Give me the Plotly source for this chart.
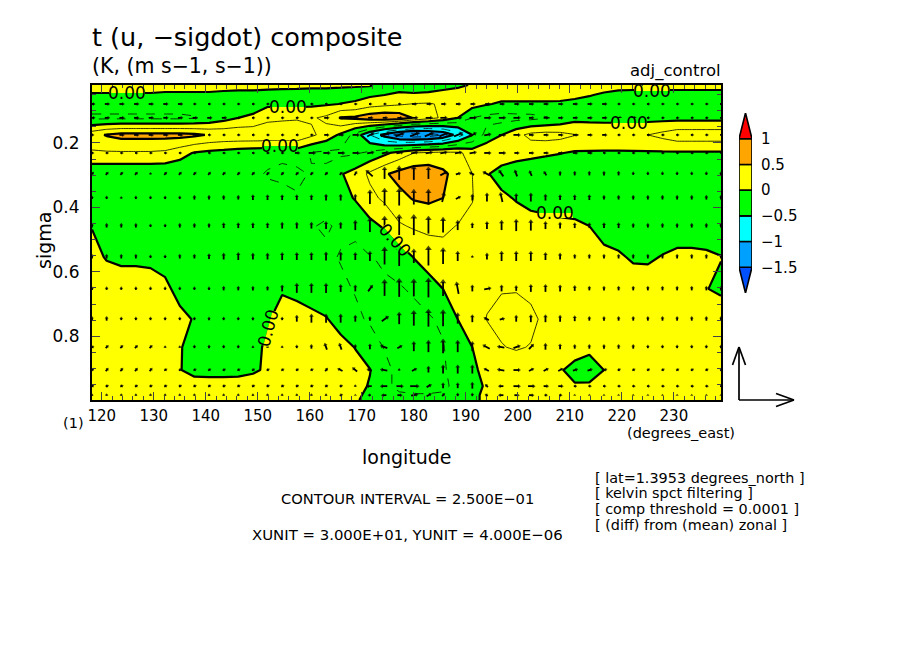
import numpy as np
import plotly.graph_objects as go

# model grid (2.8125 deg, sigma levels)
lon = [118.125 + 2.8125 * i for i in range(44)]
sigma = [0.020, 0.051, 0.079, 0.122, 0.175, 0.231, 0.296, 0.371, 0.458, 0.554, 0.653, 0.747, 0.834, 0.905, 0.955, 0.983, 0.998]

# temperature anomaly, K (rows = sigma, 4 groups of 11 columns)
t_anom = [
    [.08,.08,.08,.08,.08,.07,.07,.07,.07,.06,.06, .06,.05,.05,.05,.04,.04,.03,.02,.005,-.02,-.05, -.2,-.2,-.15,-.05,.02,.1,.1,.1,.1,.1,.1, .1,.1,.15,.12,.1,.1,.1,.1,.1,.1,.1],
    [-.02,-.02,-.02,-.02,-.02,-.03,-.03,-.03,-.03,-.04,-.05, -.05,-.06,-.07,-.08,-.08,-.08,-.08,-.08,-.04,0,.02, .05,.08,.15,.12,.15,.15,.1,.12,.12,.12,.1, .08,.02,-.05,-.1,-.1,-.1,-.1,-.1,-.1,-.1,-.1],
    [-.12,-.12,-.12,-.12,-.12,-.12,-.12,-.12,-.1,-.1,-.12, -.1,-.05,-.05,-.06,-.05,-.03,.005,.04,.14,.18,.22, .26,.27,.22,.2,.1,.02,-.04,-.05,-.05,-.05,-.05, -.1,-.13,-.12,-.12,-.12,-.12,-.12,-.12,-.12,-.12,-.12],
    [-.3,-.3,-.3,-.3,-.3,-.3,-.3,-.27,-.2,-.1,0, .04,.18,.2,.22,.22,.3,.52,.55,.65,.7,.65, .48,.35,.2,0,-.25,-.33,-.35,-.33,-.32,-.27,-.2, -.08,-.08,-.08,-.08,-.08,-.08,-.08,-.08,-.08,-.08,-.08],
    [.4,.52,.58,.58,.58,.58,.58,.55,.48,.45,.45, .45,.45,.47,.45,.3,.15,-.05,-.35,-.75,-1.1,-1.35, -1.45,-1.4,-1.25,-.9,-.5,-.15,0,.17,.32,.35,.33, .26,.22,.2,.2,.22,.25,.32,.4,.4,.4,.4],
    [.22,.22,.22,.22,.22,.2,.1,-.02,-.06,-.09,-.13, -.15,-.17,-.2,-.15,-.27,-.3,-.3,-.28,-.2,-.06,.1, .25,.3,.32,.3,.15,.2,.15,.1,.08,.04,.01, -.03,-.03,-.03,-.03,-.03,-.03,-.03,-.03,-.03,-.03,-.03],
    [-.2,-.2,-.2,-.2,-.2,-.2,-.2,-.2,-.2,-.2,-.2, -.2,-.27,-.3,-.3,-.23,-.2,-.02,.1,.3,.47,.58, .65,.65,.55,.4,.25,.02,-.1,-.15,-.2,-.2,-.22, -.2,-.2,-.2,-.2,-.2,-.2,-.2,-.2,-.2,-.2,-.2],
    [-.1,-.15,-.17,-.17,-.17,-.17,-.17,-.17,-.17,-.17,-.17, -.17,-.17,-.17,-.23,-.2,-.18,-.1,.02,.18,.3,.43, .52,.55,.5,.4,.26,.1,.05,-.02,-.1,-.13,-.15, -.15,-.17,-.17,-.17,-.17,-.17,-.17,-.17,-.17,-.17,-.17],
    [-.01,-.15,-.17,-.17,-.17,-.17,-.17,-.17,-.17,-.17,-.17, -.17,-.17,-.17,-.17,-.24,-.27,-.22,-.2,-.07,.03,.22, .28,.3,.3,.24,.2,.17,.15,.13,.12,.1,.07, .05,0,-.12,-.12,-.12,-.12,-.12,-.12,-.12,-.1,-.12],
    [.08,-.02,-.06,-.06,-.08,-.12,-.17,-.17,-.17,-.17,-.17, -.17,-.17,-.17,-.18,-.2,-.22,-.26,-.3,-.26,-.22,-.15, .01,.13,.16,.15,.15,.15,.15,.14,.13,.12,.12, .1,.1,.08,.03,-.03,-.03,.01,.05,.05,.03,.005],
    [.15,.15,.15,.15,.15,.07,-.1,-.15,-.15,-.15,-.15, -.15,-.1,-.02,-.1,-.15,-.2,-.22,-.26,-.28,-.28,-.27, -.22,-.12,0,.13,.18,.2,.24,.24,.2,.15,.13, .13,.12,.12,.12,.12,.1,.1,.1,.08,.005,-.03],
    [.15,.15,.15,.15,.15,.15,.08,-.02,-.1,-.1,-.1, -.1,-.02,.08,.15,.08,.02,-.12,-.22,-.27,-.3,-.32, -.32,-.28,-.2,0,.12,.26,.3,.32,.3,.2,.15, .12,.12,.12,.12,.12,.12,.12,.12,.12,.12,.1],
    [.15,.15,.15,.15,.15,.15,.02,-.1,-.1,-.1,-.1, -.05,.03,.12,.12,.12,.12,.1,-.01,-.17,-.26,-.3, -.32,-.3,-.27,-.05,0,.1,.24,.27,.24,.15,.12, .1,.05,.12,.12,.12,.12,.12,.12,.12,.12,.12],
    [.13,.13,.13,.13,.13,.13,.01,-.07,-.08,-.08,-.07, -.03,.03,.1,.1,.1,.1,.1,.1,.01,-.2,-.3, -.3,-.3,-.27,-.18,-.05,.08,.12,.13,.12,.1,.02, -.07,-.1,.001,.1,.1,.1,.1,.1,.1,.1,.1],
    [.1,.1,.1,.1,.1,.1,.1,.1,.1,.1,.1, .1,.1,.1,.1,.1,.1,.1,.08,-.02,-.2,-.3, -.3,-.3,-.3,-.18,-.05,.02,.1,.1,.1,.1,.1, .02,.03,.1,.1,.1,.1,.1,.1,.1,.1,.1],
    [.1,.1,.1,.1,.1,.1,.1,.1,.1,.1,.1, .1,.1,.1,.1,.1,.1,.1,.05,-.06,-.15,-.22, -.24,-.24,-.22,-.13,-.04,.04,.1,.1,.1,.1,.1, .1,.1,.1,.1,.1,.1,.1,.1,.1,.1,.1],
    [.1,.1,.1,.1,.1,.1,.1,.1,.1,.1,.1, .1,.1,.1,.1,.1,.1,.1,.03,-.08,-.12,-.18, -.2,-.2,-.18,-.1,-.05,.05,.1,.1,.1,.1,.1, .1,.1,.1,.1,.1,.1,.1,.1,.1,.1,.1],
]

# wind vectors: rows from sigma[2] to sigma[15]
u_wind = [  # m/s
    [2,2,2,2,2,2,2,1,1,1,1, 1,1,1,1,1,1,1,1,1,1,1, 2,2,2,2,2,2,2,2,2,2,2, 2,2,2,1,1,1,1,1,1,1,1],
    [2,2,2,2,2,2,2,2,2,2,1, 1,1,1,1,1,2,2,2,2,2,2, 3,3,3,3,3,3,3,3,2,2,2, 2,2,2,2,2,1,1,1,1,1,1],
    [1,2,2,2,2,2,2,2,1,1,1, 1,1,1,1,1,2,2,3,3,4,4, 4,4,4,4,3,3,3,3,2,2,2, 2,2,2,1,1,1,1,1,1,1,1],
    [1,1,1,1,1,1,1,1,1,1,1, 1,1,1,2,3,3,3,3,3,3,3, 3,3,3,3,3,3,3,2,2,2,2, 2,2,1,1,1,1,1,1,1,1,1],
    [1,1,1,1,0,1,1,1,1,1,1, 1,1,1,1,1,1,1,1,-3,0,0, 0,0,3,2,-2,-3,-2,-1,-1,-1,0, 0,0,0,0,0,0,0,0,0,0,0],
    [0,0,0,0,0,0,0,0,0,0,0, 0,0,0,0,0,0,0,0,0,0,0, 0,0,1,2,0,0,-1,0,0,0,0, 0,0,0,0,0,0,0,0,0,0,0],
    [0,0,0,0,0,0,0,0,0,0,0, 0,0,0,0,0,0,0,0,0,0,0, 0,0,0,0,0,0,0,0,0,0,0, 0,0,0,0,0,0,0,0,0,0,0],
    [0,0,0,0,0,0,0,0,0,0,0, 0,0,0,0,0,0,0,0,0,0,0, 0,0,0,0,0,0,0,0,0,0,0, 0,0,0,0,0,0,0,0,0,0,0],
    [0,0,0,0,0,0,0,0,0,0,0, 0,0,0,0,0,0,0,0,2,0,0, 0,0,0,-1,0,3,0,0,0,0,0, 0,0,0,0,0,0,0,0,0,0,0],
    [0,0,0,0,0,0,0,0,0,0,0, 0,0,0,0,0,0,0,0,0,3,0, 0,0,0,0,0,-2,2,0,0,0,0, 0,0,0,0,0,0,0,0,0,0,0],
    [1,1,1,1,1,0,0,0,0,0,0, 0,0,0,0,0,-1,-1,0,0,-3,2, 0,0,0,0,0,-3,-3,3,2,0,0, 0,0,0,0,0,0,0,0,0,0,0],
    [1,1,1,1,1,1,1,1,1,1,1, 1,1,1,1,1,1,-2,-2,-2,-3,0, 2,0,0,0,0,-2,-3,3,2,2,2, 2,2,2,1,1,1,1,1,1,1,1],
    [1,1,1,1,1,1,1,1,1,1,1, 1,1,1,1,1,1,1,0,-2,-3,3, 4,2,0,0,0,-1,-2,3,3,2,2, 1,1,1,1,1,1,1,1,1,1,1],
    [0,0,0,0,0,0,0,0,0,0,0, 0,0,0,0,0,0,1,0,-1,-2,2, 3,2,1,0,0,-1,-2,2,2,1,1, 0,0,0,0,0,0,0,0,0,0,0],
]
w_wind = [  # -sigdot, in 1/53 of YUNIT
    [0,0,0,0,0,0,0,0,0,0,0, 0,0,0,0,0,0,0,0,0,0,0, 0,0,0,0,0,0,0,0,0,0,0, 0,0,0,0,0,0,0,0,0,0,0],
    [0,0,0,0,0,0,0,0,0,0,0, 0,0,0,0,0,0,0,0,0,0,0, 0,0,0,0,0,0,0,0,0,0,0, 0,0,0,0,0,0,0,0,0,0,0],
    [0,0,0,0,0,0,0,0,0,0,0, 0,0,0,0,0,0,0,0,3,3,3, 3,3,3,3,3,1,0,0,0,0,0, 0,0,0,0,0,0,0,0,0,0,0],
    [0,0,0,0,0,0,0,0,0,0,0, 0,0,0,0,0,0,0,0,1,1,1, 1,1,1,1,1,0,0,0,0,0,0, 0,0,0,0,0,0,0,0,0,0,0],
    [2,2,2,2,1,2,2,2,2,2,2, 2,2,2,2,2,2,2,3,5,10,12, 12,10,3,1,2,3,5,5,4,3,3, 3,3,3,3,2,2,2,2,2,2,2],
    [2,2,1,2,2,2,2,3,3,3,3, 4,4,4,4,4,5,5,5,12,15,15, 13,13,8,2,5,7,8,6,7,5,4, 4,4,3,3,3,3,3,3,3,3,3],
    [3,3,3,3,2,2,3,3,3,4,4, 4,4,5,5,5,6,5,8,12,15,18, 18,15,13,8,4,6,8,10,9,6,5, 4,4,4,4,3,3,3,3,3,3,3],
    [3,3,3,3,2,2,3,3,4,5,6, 5,5,6,6,6,7,7,6,8,15,18, 12,17,14,8,1,5,8,8,8,6,5, 3,3,3,3,3,3,3,3,3,3,3],
    [2,2,2,2,2,2,2,2,2,3,3, 3,3,5,8,8,8,6,5,5,14,16, 15,17,14,10,5,1,5,4,6,6,5, 4,3,3,3,3,3,3,3,3,3,3],
    [3,3,2,2,2,2,2,2,2,2,2, 2,2,2,5,7,7,7,5,3,4,10, 13,15,14,9,6,2,1,5,6,6,5, 4,3,3,3,3,3,3,3,3,3,3],
    [1,2,2,2,2,1,1,2,2,2,2, 1,1,1,2,3,5,5,3,4,2,2, 8,10,12,10,8,3,1,2,4,5,4, 3,3,3,3,3,2,2,2,2,2,2],
    [2,2,2,2,2,1,1,1,1,1,1, 1,1,1,1,1,2,2,3,1,1,1, 2,5,7,7,7,2,1,0,2,2,2, 1,1,1,1,1,1,1,1,1,1,1],
    [1,1,1,1,1,1,1,1,1,1,1, 1,1,1,1,1,1,1,1,0,0,0, 0,2,4,4,5,2,0,0,0,0,0, 0,0,0,0,0,0,0,0,0,0,0],
    [1,1,1,1,1,1,1,1,1,1,1, 1,1,1,1,1,1,1,0,0,0,0, 1,2,2,2,2,1,0,0,0,0,0, 0,0,0,0,0,0,0,0,0,0,0],
]

band_levels = [-2.0, -1.5, -1.0, -0.5, 0.0, 0.5, 1.0, 1.5]
band_colors = ["#0050ff", "#00a0ff", "#00ffff", "#00ff00", "#ffff00", "#ffa500", "#ff0000"]
cbar_ticks = [-1.5, -1.0, -0.5, 0.0, 0.5, 1.0]
cbar_labels = ["\u22121.5", "\u22121", "\u22120.5", "0", "0.5", "1"]
xticks = list(range(120, 240, 10))
yticks = [0.2, 0.4, 0.6, 0.8]

xunit = 30.0     # m/s
yunit = 53.0     # see w_wind

OFF = 8          # body margin of the page
W, H = 904, 654
FONT = "DejaVu Sans"
X0, X1, Y0, Y1 = 92, 721, 85, 400   # plot box in pixels
YELLOW, GREEN = band_colors[4], band_colors[3]


def px(x):
    return (x - OFF) / (W - OFF)


def py(y):
    return 1 - (y - OFF) / (H - OFF)


t_anom = np.array(t_anom)
u_wind = np.array(u_wind, dtype=float)
w_wind = np.array(w_wind, dtype=float)
lon = np.array(lon)
sigma = np.array(sigma)
x_range = [lon[0], lon[-1]]
y_range = [sigma[-1], sigma[0]]

fig = go.Figure()

# filled bands
n = len(band_colors)
cscale = []
for i, c in enumerate(band_colors):
    cscale += [[i / n, c], [(i + 1) / n, c]]
fig.add_trace(go.Contour(
    x=lon, y=sigma, z=t_anom, zmin=-2, zmax=1.5, colorscale=cscale, showscale=False,
    contours=dict(coloring="fill", start=-2, end=1.5, size=0.5), line=dict(width=0, smoothing=0),
    hoverinfo="skip",
))
# contour lines, interval 0.25
for start, end, width, dash in [(-1.5, 1, 2.2, "solid"), (0.25, 0.75, 0.8, "solid"), (-1.25, -0.25, 0.8, "dash")]:
    fig.add_trace(go.Contour(
        x=lon, y=sigma, z=t_anom, showscale=False, hoverinfo="skip",
        contours=dict(coloring="none", start=start, end=end, size=0.5),
        line=dict(color="black", width=width, dash=dash, smoothing=0),
    ))

# vectors, centred on the grid points
lon_per_px = (lon[-1] - lon[0]) / (X1 - X0)
sig_per_px = (sigma[-1] - sigma[0]) / (Y1 - Y0)
ref_x, ref_y = 55.0, 53.0
vx, vy, hx, hy, ha, hs = [], [], [], [], [], []
for j, s in enumerate(sigma[2:16]):
    for i, l in enumerate(lon):
        dx = u_wind[j, i] / xunit * ref_x
        dy = w_wind[j, i] / yunit * ref_y
        vx += [l - dx / 2 * lon_per_px, l + dx / 2 * lon_per_px, None]
        vy += [s + dy / 2 * sig_per_px, s - dy / 2 * sig_per_px, None]
        hx.append(l + dx / 2 * lon_per_px)
        hy.append(s - dy / 2 * sig_per_px)
        ha.append(np.degrees(np.arctan2(dx, dy)))
        hs.append(min(6, 2.8 + np.hypot(dx, dy) * 0.2))
fig.add_trace(go.Scatter(x=vx, y=vy, mode="lines", line=dict(color="black", width=1.8), hoverinfo="skip", showlegend=False))
fig.add_trace(go.Scatter(x=hx, y=hy, mode="markers", hoverinfo="skip", showlegend=False,
                         marker=dict(symbol="triangle-up", color="black", size=hs, angle=ha, line=dict(width=0))))

# colour bar on its own axes, pointed at both ends
for i, c in enumerate(band_colors):
    lo, hi = band_levels[i], band_levels[i + 1]
    if i == 0:
        bx, by = [0, 1, 0.5, 0], [hi, hi, lo, hi]
    elif i == n - 1:
        bx, by = [0, 1, 0.5, 0], [lo, lo, hi, lo]
    else:
        bx, by = [0, 1, 1, 0, 0], [lo, lo, hi, hi, lo]
    fig.add_trace(go.Scatter(x=bx, y=by, xaxis="x2", yaxis="y2", mode="lines", fill="toself", fillcolor=c,
                             line=dict(color="black", width=1.6), hoverinfo="skip", showlegend=False))

fig.update_layout(
    width=W - OFF, height=H - OFF, autosize=False, showlegend=False,
    margin=dict(l=0, r=0, t=0, b=0, pad=0),
    paper_bgcolor="white", plot_bgcolor="white",
    font=dict(family=FONT, color="black"),
    xaxis=dict(
        domain=[px(X0), px(X1)], range=x_range, tickvals=xticks, ticks="inside", ticklen=8, tickwidth=1.3,
        showline=True, linewidth=2, linecolor="black", mirror="allticks", showgrid=False, zeroline=False,
        tickfont=dict(size=15), ticklabelstandoff=1, automargin=False,
        minor=dict(dtick=2, tick0=0, ticks="inside", ticklen=4, tickwidth=1.1, showgrid=False),
    ),
    yaxis=dict(
        domain=[py(Y1), py(Y0)], range=y_range, tickvals=yticks, tickformat=".1f", ticks="inside", ticklen=8, tickwidth=1.3,
        showline=True, linewidth=2, linecolor="black", mirror="allticks", showgrid=False, zeroline=False,
        tickfont=dict(size=17), ticklabelstandoff=7, automargin=False,
        minor=dict(dtick=0.05, tick0=0, ticks="inside", ticklen=4, tickwidth=1.1, showgrid=False),
    ),
    xaxis2=dict(domain=[px(739), px(752)], range=[0, 1], visible=False, anchor="y2", automargin=False),
    yaxis2=dict(domain=[py(293), py(113)], range=[-2, 1.5], anchor="x2", side="right",
                tickvals=cbar_ticks, ticktext=cbar_labels, ticks="", showgrid=False, zeroline=False,
                showline=False, tickfont=dict(size=15), ticklabelstandoff=8, automargin=False),
)


def label(x, y, text, size, anchor="left", angle=0):
    fig.add_annotation(x=px(x), y=py(y), xref="paper", yref="paper", text=text, showarrow=False,
                       xanchor=anchor, yanchor="middle", textangle=angle, font=dict(size=size, color="black"),
                       borderpad=0, borderwidth=0)


def patch(pts, color):
    path = "M " + " L ".join(f"{px(a):.5f},{py(b):.5f}" for a, b in pts) + " Z"
    fig.add_shape(type="path", path=path, xref="paper", yref="paper", fillcolor=color, line=dict(width=0))


label(92, 37, "t (u, \u2212sigdot) composite", 25.5)
label(92, 66, "(K, (m s\u22121, s\u22121))", 20.5)
label(721, 71, "adj_control", 16.5, "right")
label(44, 241, "sigma", 19, "center", -90)
label(407, 457, "longitude", 19, "center")
label(73, 423, "(1)", 14.5, "center")
label(681, 433, "(degrees_east)", 14.5, "center")
label(407, 498, "CONTOUR INTERVAL = 2.500E\u221201", 14.7, "center")
label(407, 535, "XUNIT = 3.000E+01, YUNIT = 4.000E\u221206", 14.9, "center")
label(595, 478, "[ lat=1.3953 degrees_north ]", 14.4)
label(595, 493, "[ kelvin spct filtering ]", 14.4)
label(595, 509, "[ comp threshold = 0.0001 ]", 14.4)
label(595, 525, "[ (diff) from (mean) zonal ]", 14.4)

# zero-line labels; the line is broken under each one
zero_labels = [(127, 93, 0, YELLOW, GREEN), (288, 107, 0, GREEN, YELLOW), (280, 146, 0, YELLOW, GREEN),
               (652, 91, 0, YELLOW, GREEN), (629, 123, 0, GREEN, YELLOW), (555, 213, 0, GREEN, YELLOW),
               (395, 240, 48, YELLOW, GREEN), (268, 328, -75, GREEN, YELLOW)]
for x, y, a, above, below in zero_labels:
    ca, sa = np.cos(np.radians(a)), np.sin(np.radians(a))
    L, h = 18, 5
    dirx, diry, nx, ny = L * ca, L * sa, h * sa, -h * ca
    patch([(x - dirx, y - diry), (x + dirx, y + diry), (x + dirx + nx, y + diry + ny), (x - dirx + nx, y - diry + ny)], above)
    patch([(x - dirx, y - diry), (x + dirx, y + diry), (x + dirx - nx, y + diry - ny), (x - dirx - nx, y - diry - ny)], below)
    label(x, y, "0.00", 17, "center", a)

# reference vector, open heads
up = [(739, 400), (739, 400 - ref_y)]
right = [(739, 400), (739 + ref_x, 400)]
for tail, tip in [up, right]:
    ux, uy = (tip[0] - tail[0]) / 55 if tip[0] != tail[0] else 0, (tip[1] - tail[1]) / 53 if tip[1] != tail[1] else 0
    b1 = (tip[0] - 18 * ux - 6.5 * uy, tip[1] - 18 * uy - 6.5 * ux)
    b2 = (tip[0] - 18 * ux + 6.5 * uy, tip[1] - 18 * uy + 6.5 * ux)
    for a, b in [(tail, tip), (b1, tip), (b2, tip)]:
        fig.add_shape(type="line", x0=px(a[0]), y0=py(a[1]), x1=px(b[0]), y1=py(b[1]), xref="paper", yref="paper",
                      line=dict(color="black", width=1.7))

fig.write_html("out.html")
